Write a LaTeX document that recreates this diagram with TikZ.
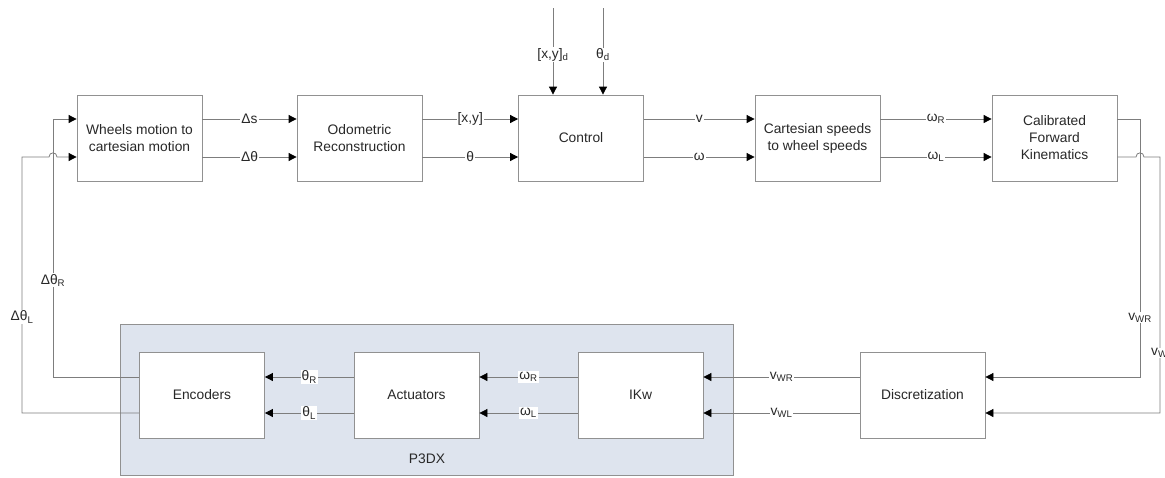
\documentclass[tikz,border=0pt]{standalone}
\usepackage{fontspec}
\setmainfont{Liberation Sans}
\usetikzlibrary{arrows.meta}
\definecolor{linegray}{RGB}{125,125,125}
\definecolor{boxgray}{RGB}{145,145,145}
\definecolor{txt}{RGB}{40,40,40}
\definecolor{p3dx}{RGB}{222,228,238}
\newcommand{\labfont}{\fontsize{13.8}{17}\selectfont\color{txt}}
\tikzset{
  box/.style={draw=boxgray, line width=0.8pt, fill=white, minimum width=125pt, minimum height=86pt, align=center, inner sep=0pt, font=\labfont},
  lbl/.style={fill=white, inner sep=1pt, font=\labfont},
  wire/.style={draw=linegray, line width=0.8pt},
  arr/.style={wire, -{Triangle[length=8pt,width=8pt,color=black]}},
  up/.style={yshift=19pt},
  dn/.style={yshift=-19pt},
  bup/.style={yshift=18pt},
  bdn/.style={yshift=-18pt}
}
\begin{document}
\begin{tikzpicture}[x=1pt,y=-1pt]
\useasboundingbox (0,0) rectangle (1165,477);
% P3DX container
\node[draw=boxgray, line width=0.8pt, fill=p3dx, minimum width=613pt, minimum height=151pt, inner sep=0pt] (p3dx) at (426.5,399.5) {};
\node[font=\labfont] (p3dxlbl) at (427,459) {P3DX};
% top row
\node[box] (wheels) at (139.5,138) {Wheels motion to\\cartesian motion};
\node[box] (odo) at (359.5,138) {Odometric\\Reconstruction};
\node[box] (ctrl) at (581,138) {Control};
\node[box] (cart) at (817.5,138) {Cartesian speeds\\to wheel speeds};
\node[box] (calib) at (1054.5,138) {Calibrated\\Forward\\Kinematics};
% bottom row
\node[box] (enc) at (202,395) {Encoders};
\node[box] (act) at (416.5,395) {Actuators};
\node[box] (ikw) at (640.5,395) {IKw};
\node[box] (disc) at (922.5,395) {Discretization};
% ports
\coordinate (wheelsWu) at ([up]wheels.west);
\coordinate (wheelsWd) at ([dn]wheels.west);
\coordinate (calibEu) at ([up]calib.east);
\coordinate (calibEd) at ([dn]calib.east);
\coordinate (discEu) at ([bup]disc.east);
\coordinate (discEd) at ([bdn]disc.east);
\coordinate (encWu) at ([bup]enc.west);
\coordinate (encWd) at ([bdn]enc.west);
% top row connectors
\draw[arr] ([up]wheels.east) -- node[lbl]{Δs} ([up]odo.west);
\draw[arr] ([dn]wheels.east) -- node[lbl]{Δθ} ([dn]odo.west);
\draw[arr] ([up]odo.east) -- node[lbl]{[x,y]} ([up]ctrl.west);
\draw[arr] ([dn]odo.east) -- node[lbl]{θ} ([dn]ctrl.west);
\draw[arr] ([up]ctrl.east) -- node[lbl]{v} ([up]cart.west);
\draw[arr] ([dn]ctrl.east) -- node[lbl]{ω} ([dn]cart.west);
\draw[arr] ([up]cart.east) -- node[lbl]{ω\textsubscript{R}} ([up]calib.west);
\draw[arr] ([dn]cart.east) -- node[lbl]{ω\textsubscript{L}} ([dn]calib.west);
% control set-points
\coordinate (xyd) at (553,8);
\coordinate (thd) at (603,8);
\draw[arr] (xyd) -- node[lbl, pos=0.54]{[x,y]\textsubscript{d}} (xyd |- ctrl.north);
\draw[arr] (thd) -- node[lbl, pos=0.54]{θ\textsubscript{d}} (thd |- ctrl.north);
% right feedback
\coordinate (rr) at (1140,0);
\coordinate (rl) at (1160,0);
\draw[arr] (calibEu) -- (calibEu -| rr) -- node[lbl, pos=0.77]{v\textsubscript{WR}} (discEu -| rr) -- (discEu);
\draw[arr] (calibEd) -- ([xshift=-4pt]calibEd -| rr) .. controls +(0,-5.5) and +(0,-5.5) .. ([xshift=4pt]calibEd -| rr) -- (calibEd -| rl) -- (discEd -| rl) -- (discEd);
\node[lbl, anchor=west, inner sep=0pt] (vwl) at (1151,353) {v\textsubscript{W}};
% bottom row connectors
\draw[arr] ([bup]disc.west) -- node[lbl]{v\textsubscript{WR}} ([bup]ikw.east);
\draw[arr] ([bdn]disc.west) -- node[lbl]{v\textsubscript{WL}} ([bdn]ikw.east);
\draw[arr] ([bup]ikw.west) -- node[lbl]{ω\textsubscript{R}} ([bup]act.east);
\draw[arr] ([bdn]ikw.west) -- node[lbl]{ω\textsubscript{L}} ([bdn]act.east);
\draw[arr] ([bup]act.west) -- node[lbl]{θ\textsubscript{R}} ([bup]enc.east);
\draw[arr] ([bdn]act.west) -- node[lbl]{θ\textsubscript{L}} ([bdn]enc.east);
% left feedback
\coordinate (lr) at (53,0);
\coordinate (ll) at (22,0);
\draw[arr] (encWu) -- (encWu -| lr) -- node[lbl, pos=0.375]{Δθ\textsubscript{R}} (wheelsWu -| lr) -- (wheelsWu);
\draw[arr] (encWd) -- (encWd -| ll) -- node[lbl, pos=0.375]{Δθ\textsubscript{L}} (wheelsWd -| ll) -- ([xshift=-4pt]wheelsWd -| lr) .. controls +(0,-5.5) and +(0,-5.5) .. ([xshift=4pt]wheelsWd -| lr) -- (wheelsWd);
\end{tikzpicture}
\end{document}
